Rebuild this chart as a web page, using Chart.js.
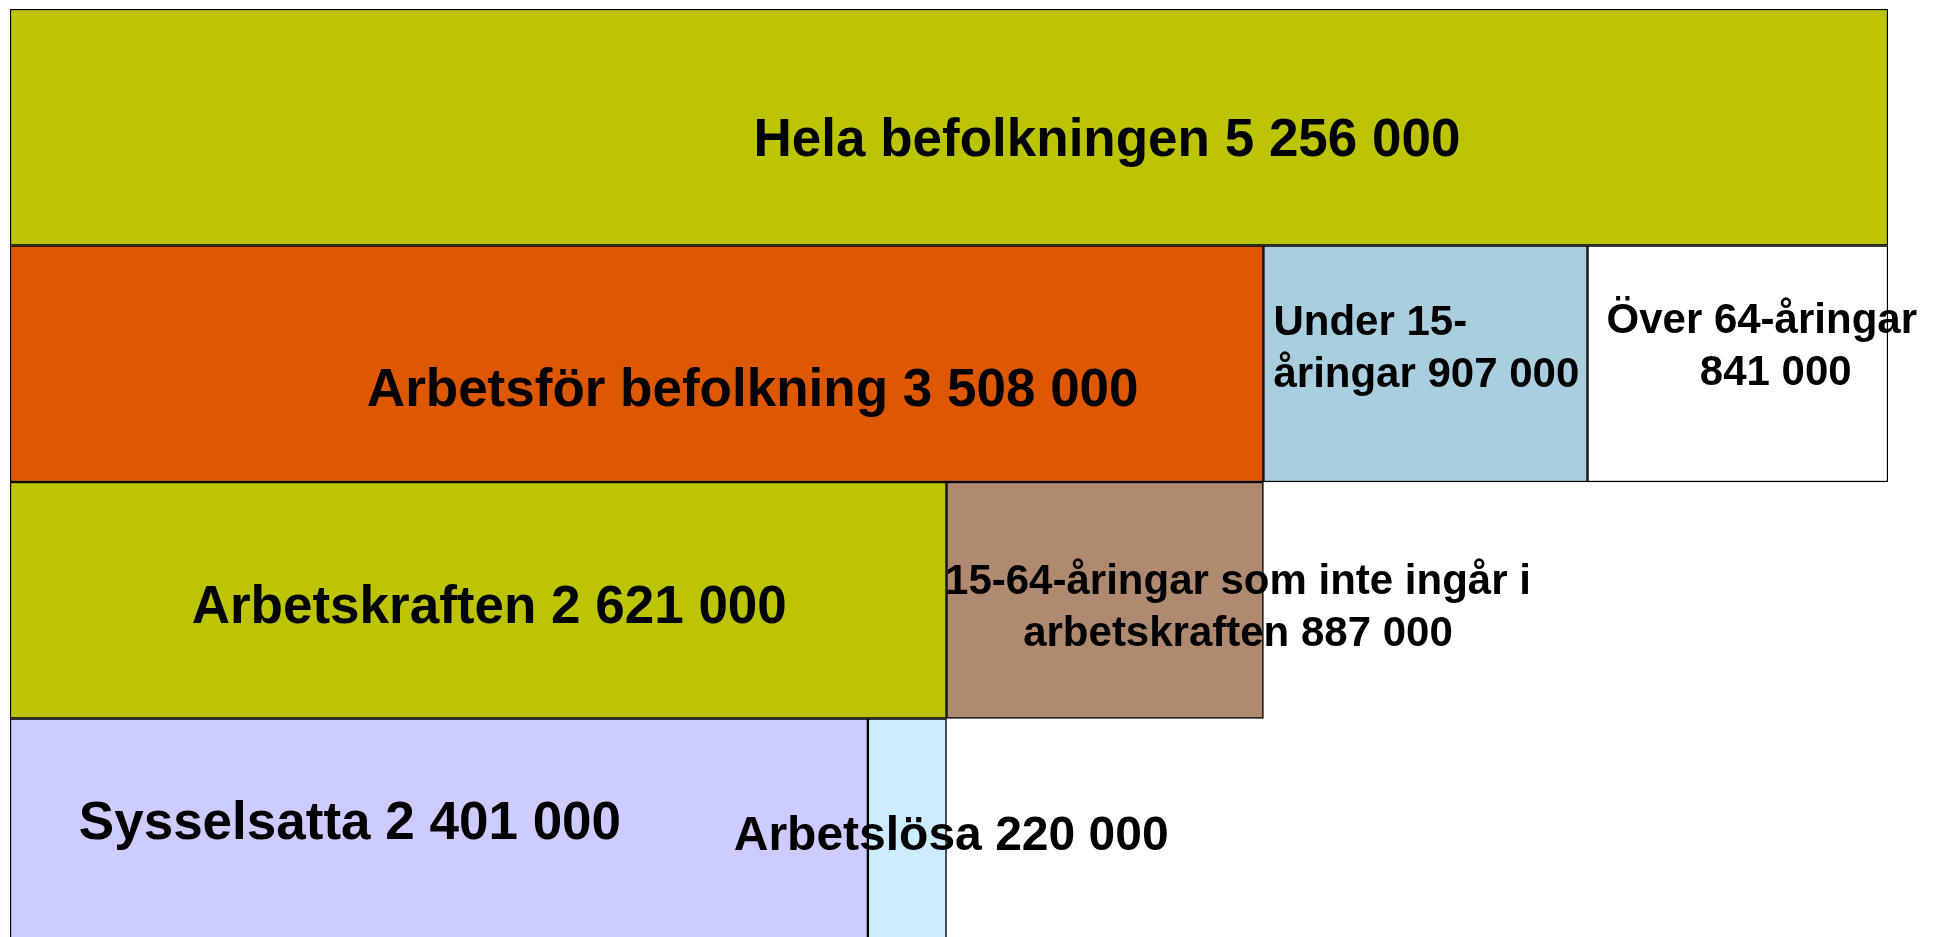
<!DOCTYPE html>
<html>
<head>
<meta charset="utf-8">
<script src="https://cdn.jsdelivr.net/npm/chart.js@4/dist/chart.umd.min.js"></script>
<style>
html,body{margin:0;padding:0;background:#fff;overflow:hidden;}
canvas{display:block;}
</style>
</head>
<body>
<canvas id="c" width="1941" height="960"></canvas>
<script>
// ---- data ----
const categories = ['Hela befolkningen', 'Arbetsför befolkning', 'Arbetskraften', 'Sysselsatta'];
const firstPart  = [5256000, 3508000, 2621000, 2401000];
const secondPart = [null, 907000, 887000, 220000];
const thirdPart  = [null, 841000, null, null];
const firstNames  = ['Hela befolkningen', 'Arbetsför befolkning', 'Arbetskraften', 'Sysselsatta'];
const secondNames = [null, 'Under 15-|åringar', '15-64-åringar som inte ingår i|arbetskraften', 'Arbetslösa'];
const thirdNames  = [null, 'Över 64-åringar|', null, null];

const firstColors  = ['#BCC404', '#DD5800', '#BCC404', '#CCCCFF'];
const secondColors = [null, '#A9CEE0', '#B08A70', '#CCECFF'];
const thirdColors  = [null, '#FFFFFF', null, null];

function fmt(v){ return String(v).replace(/\B(?=(\d{3})+(?!\d))/g, ' '); }
function buildLines(name, v){
  const parts = name.split('|');
  parts[parts.length-1] = (parts[parts.length-1] ? parts[parts.length-1] + ' ' : '') + fmt(v);
  return parts;
}

// label placement (style only)
const labelStyle = [
  {ds:0, i:0, size:53, dx:158, dy:14},
  {ds:0, i:1, size:53, dx:116, dy:28},
  {ds:1, i:1, size:42, align:'left', dx:10, dy:-14, lh:1.24},
  {ds:2, i:1, size:42, dx:28, dy:-16, lh:1.24, ldx:[-4, 10]},
  {ds:0, i:2, size:53, dx:11, dy:8},
  {ds:1, i:2, size:42, dx:133, dy:8, lh:1.24},
  {ds:0, i:3, size:53, dx:-89, dy:-12},
  {ds:1, i:3, size:48, dx:44, dy:0}
];
const nameSets = [firstNames, secondNames, thirdNames];
const valueSets = [firstPart, secondPart, thirdPart];

const labelPlugin = {
  id: 'segLabels',
  afterDatasetsDraw(chart){
    const ctx = chart.ctx;
    ctx.save();
    ctx.fillStyle = '#000';
    ctx.textBaseline = 'middle';
    labelStyle.forEach(s => {
      const el = chart.getDatasetMeta(s.ds).data[s.i];
      if (!el) return;
      const lines = buildLines(nameSets[s.ds][s.i], valueSets[s.ds][s.i]);
      const left = Math.min(el.x, el.base), cx = (el.x + el.base) / 2;
      ctx.font = 'bold ' + s.size + 'px "Liberation Sans", Arial, sans-serif';
      const lh = s.size * (s.lh || 1.2);
      const y0 = el.y + s.dy - (lines.length - 1) * lh / 2;
      lines.forEach((t, k) => {
        const extra = s.ldx ? s.ldx[k] : 0;
        if (s.align === 'left') { ctx.textAlign = 'left'; ctx.fillText(t, left + s.dx + extra, y0 + k * lh); }
        else { ctx.textAlign = 'center'; ctx.fillText(t, cx + s.dx + extra, y0 + k * lh); }
      });
    });
    ctx.restore();
  }
};

const common = {borderColor:'#000', borderWidth:1.5, borderSkipped:false, barPercentage:1, categoryPercentage:1, stack:'s'};
new Chart(document.getElementById('c'), {
  type: 'bar',
  data: {
    labels: categories,
    datasets: [
      Object.assign({label:'Del 1', data:firstPart,  backgroundColor:firstColors}, common),
      Object.assign({label:'Del 2', data:secondPart, backgroundColor:secondColors}, common),
      Object.assign({label:'Del 3', data:thirdPart,  backgroundColor:thirdColors}, common)
    ]
  },
  options: {
    indexAxis: 'y',
    responsive: false,
    animation: false,
    devicePixelRatio: 1,
    layout: {padding: {left:10, right:53, top:9, bottom:5}},
    plugins: {legend:{display:false}, tooltip:{enabled:false}},
    scales: {
      x: {type:'linear', stacked:true, min:0, max:5256000, display:false},
      y: {stacked:true, display:false, offset:true}
    }
  },
  plugins: [labelPlugin]
});
</script>
</body>
</html>
